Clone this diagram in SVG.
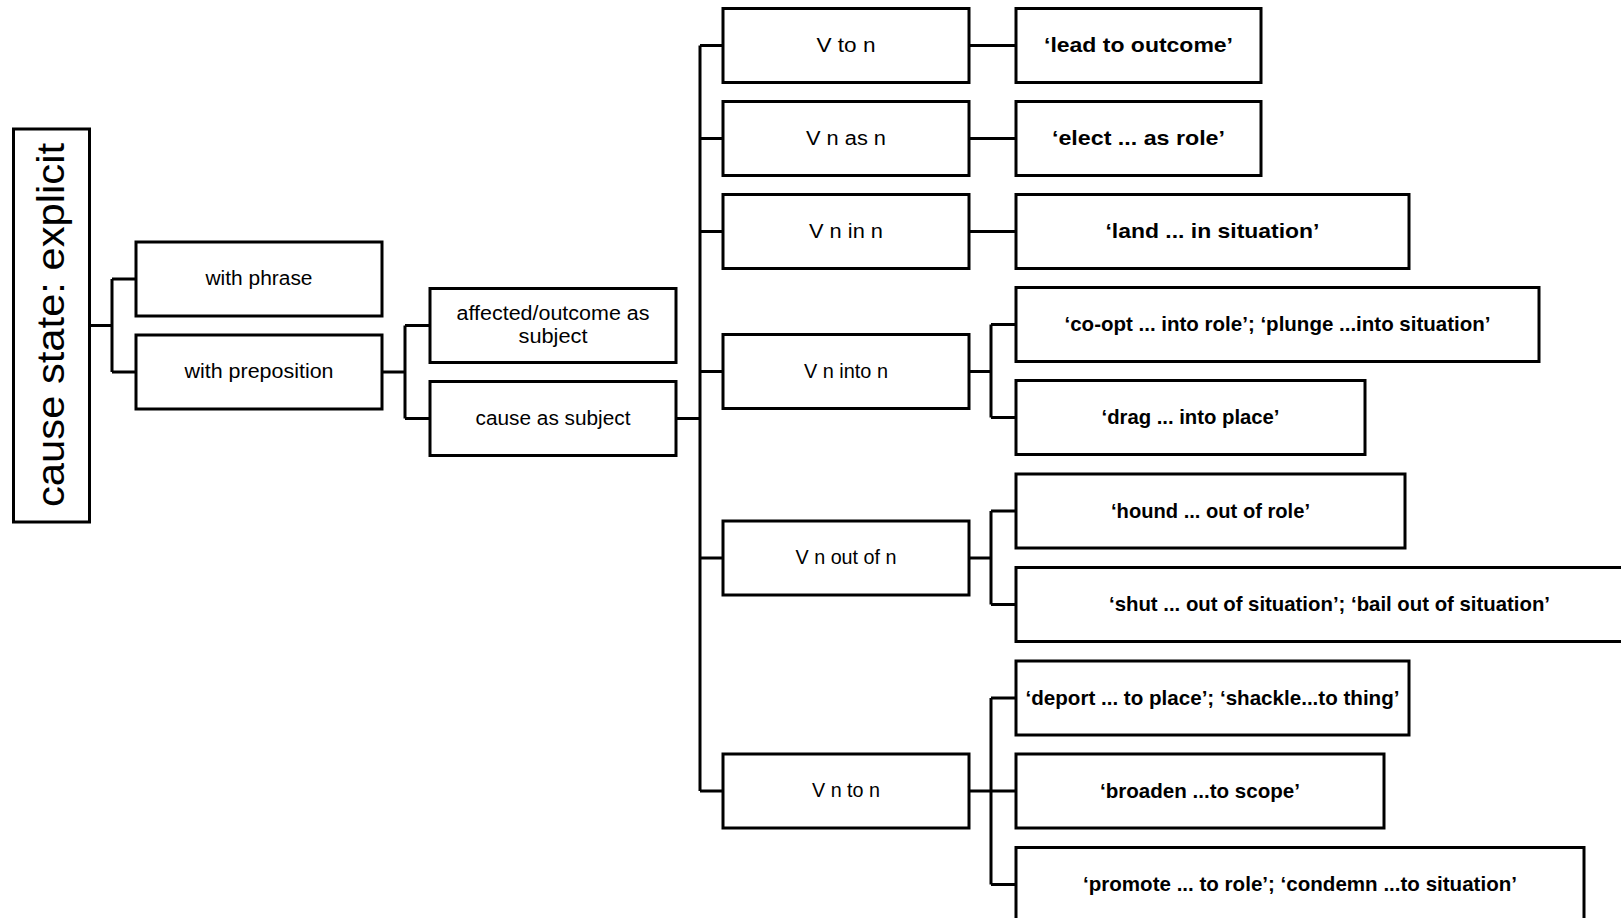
<svg xmlns="http://www.w3.org/2000/svg" width="1621" height="918" viewBox="0 0 1621 918">
<style>
.box{fill:#fff;stroke:#000;stroke-width:3}
.c{fill:none;stroke:#000;stroke-width:3}
.t{font-family:"Liberation Sans",Arial,sans-serif;font-size:20px;fill:#000;text-anchor:middle;dominant-baseline:central}
.b{font-family:"Liberation Sans",Arial,sans-serif;font-size:21px;font-weight:bold;fill:#000;text-anchor:middle;dominant-baseline:central}
.r{font-family:"Liberation Sans",Arial,sans-serif;font-size:38px;fill:#000;text-anchor:middle}
</style>
<rect width="1621" height="918" fill="#fff"/>
<g id="connectors">
<path class="c" d="M90,325.5H112M112,279V372M112,279H136M112,372H136"/>
<path class="c" d="M382,372H405M405,325.5V418.5M405,325.5H430M405,418.5H430"/>
<path class="c" d="M676,418.5H700M700,45.5V791M700,45.5H723M700,138.5H723M700,231.5H723M700,371.5H723M700,558H723M700,791H723"/>
<path class="c" d="M969,45.5H1016M969,138.5H1016M969,231.5H1016"/>
<path class="c" d="M969,371.5H991M991,324.5V417.5M991,324.5H1016M991,417.5H1016"/>
<path class="c" d="M969,558H991M991,511V604.5M991,511H1016M991,604.5H1016"/>
<path class="c" d="M969,791H991M991,698V884.5M991,698H1016M991,791H1016M991,884.5H1016"/>
</g>
<g id="root"><rect class="box" x="13.5" y="129" width="76" height="393"/><text class="r" transform="translate(64,325) rotate(-90)" textLength="364" lengthAdjust="spacingAndGlyphs">cause state: explicit</text></g>
<g id="with-phrase"><rect class="box" x="136" y="242" width="246" height="74"/><text class="t" x="259" y="278" textLength="107" lengthAdjust="spacingAndGlyphs">with phrase</text></g>
<g id="with-preposition"><rect class="box" x="136" y="335" width="246" height="74"/><text class="t" x="259" y="371" textLength="149" lengthAdjust="spacingAndGlyphs">with preposition</text></g>
<g id="affected"><rect class="box" x="430" y="288.5" width="246" height="74"/><text class="t" x="553" y="312.5" textLength="193" lengthAdjust="spacingAndGlyphs">affected/outcome as</text><text class="t" x="553" y="336" textLength="69" lengthAdjust="spacingAndGlyphs">subject</text></g>
<g id="cause-subject"><rect class="box" x="430" y="381.5" width="246" height="74"/><text class="t" x="553" y="417.5" textLength="155" lengthAdjust="spacingAndGlyphs">cause as subject</text></g>
<g id="v-to-n"><rect class="box" x="723" y="8.5" width="246" height="74"/><text class="t" x="846" y="44.5" textLength="59" lengthAdjust="spacingAndGlyphs">V to n</text></g>
<g id="v-n-as-n"><rect class="box" x="723" y="101.5" width="246" height="74"/><text class="t" x="846" y="137.5" textLength="80" lengthAdjust="spacingAndGlyphs">V n as n</text></g>
<g id="v-n-in-n"><rect class="box" x="723" y="194.5" width="246" height="74"/><text class="t" x="846" y="230.5" textLength="74" lengthAdjust="spacingAndGlyphs">V n in n</text></g>
<g id="v-n-into-n"><rect class="box" x="723" y="334.5" width="246" height="74"/><text class="t" x="846" y="370.5" textLength="84" lengthAdjust="spacingAndGlyphs">V n into n</text></g>
<g id="v-n-out-of-n"><rect class="box" x="723" y="521" width="246" height="74"/><text class="t" x="846" y="557" textLength="101" lengthAdjust="spacingAndGlyphs">V n out of n</text></g>
<g id="v-n-to-n"><rect class="box" x="723" y="754" width="246" height="74"/><text class="t" x="846" y="790" textLength="68" lengthAdjust="spacingAndGlyphs">V n to n</text></g>
<g id="lead"><rect class="box" x="1016" y="8.5" width="245" height="74"/><text class="b" x="1138.5" y="44.5" textLength="189" lengthAdjust="spacingAndGlyphs">‘lead to outcome’</text></g>
<g id="elect"><rect class="box" x="1016" y="101.5" width="245" height="74"/><text class="b" x="1138.5" y="137.5" textLength="173" lengthAdjust="spacingAndGlyphs">‘elect ... as role’</text></g>
<g id="land"><rect class="box" x="1016" y="194.5" width="393" height="74"/><text class="b" x="1212.5" y="230.5" textLength="214" lengthAdjust="spacingAndGlyphs">‘land ... in situation’</text></g>
<g id="coopt"><rect class="box" x="1016" y="287.5" width="523" height="74"/><text class="b" x="1277.5" y="323.5" textLength="426" lengthAdjust="spacingAndGlyphs">‘co-opt ... into role’; ‘plunge ...into situation’</text></g>
<g id="drag"><rect class="box" x="1016" y="380.5" width="349" height="74"/><text class="b" x="1190.5" y="416.5" textLength="178" lengthAdjust="spacingAndGlyphs">‘drag ... into place’</text></g>
<g id="hound"><rect class="box" x="1016" y="474" width="389" height="74"/><text class="b" x="1210.5" y="510" textLength="199" lengthAdjust="spacingAndGlyphs">‘hound ... out of role’</text></g>
<g id="shut"><rect class="box" x="1016" y="567.5" width="627" height="74"/><text class="b" x="1329.5" y="603.5" textLength="441" lengthAdjust="spacingAndGlyphs">‘shut ... out of situation’; ‘bail out of situation’</text></g>
<g id="deport"><rect class="box" x="1016" y="661" width="393" height="74"/><text class="b" x="1212.5" y="697" textLength="374" lengthAdjust="spacingAndGlyphs">‘deport ... to place’; ‘shackle...to thing’</text></g>
<g id="broaden"><rect class="box" x="1016" y="754" width="368" height="74"/><text class="b" x="1200" y="790" textLength="200" lengthAdjust="spacingAndGlyphs">‘broaden ...to scope’</text></g>
<g id="promote"><rect class="box" x="1016" y="847.5" width="568" height="74"/><text class="b" x="1300" y="883.5" textLength="434" lengthAdjust="spacingAndGlyphs">‘promote ... to role’; ‘condemn ...to situation’</text></g>
</svg>
